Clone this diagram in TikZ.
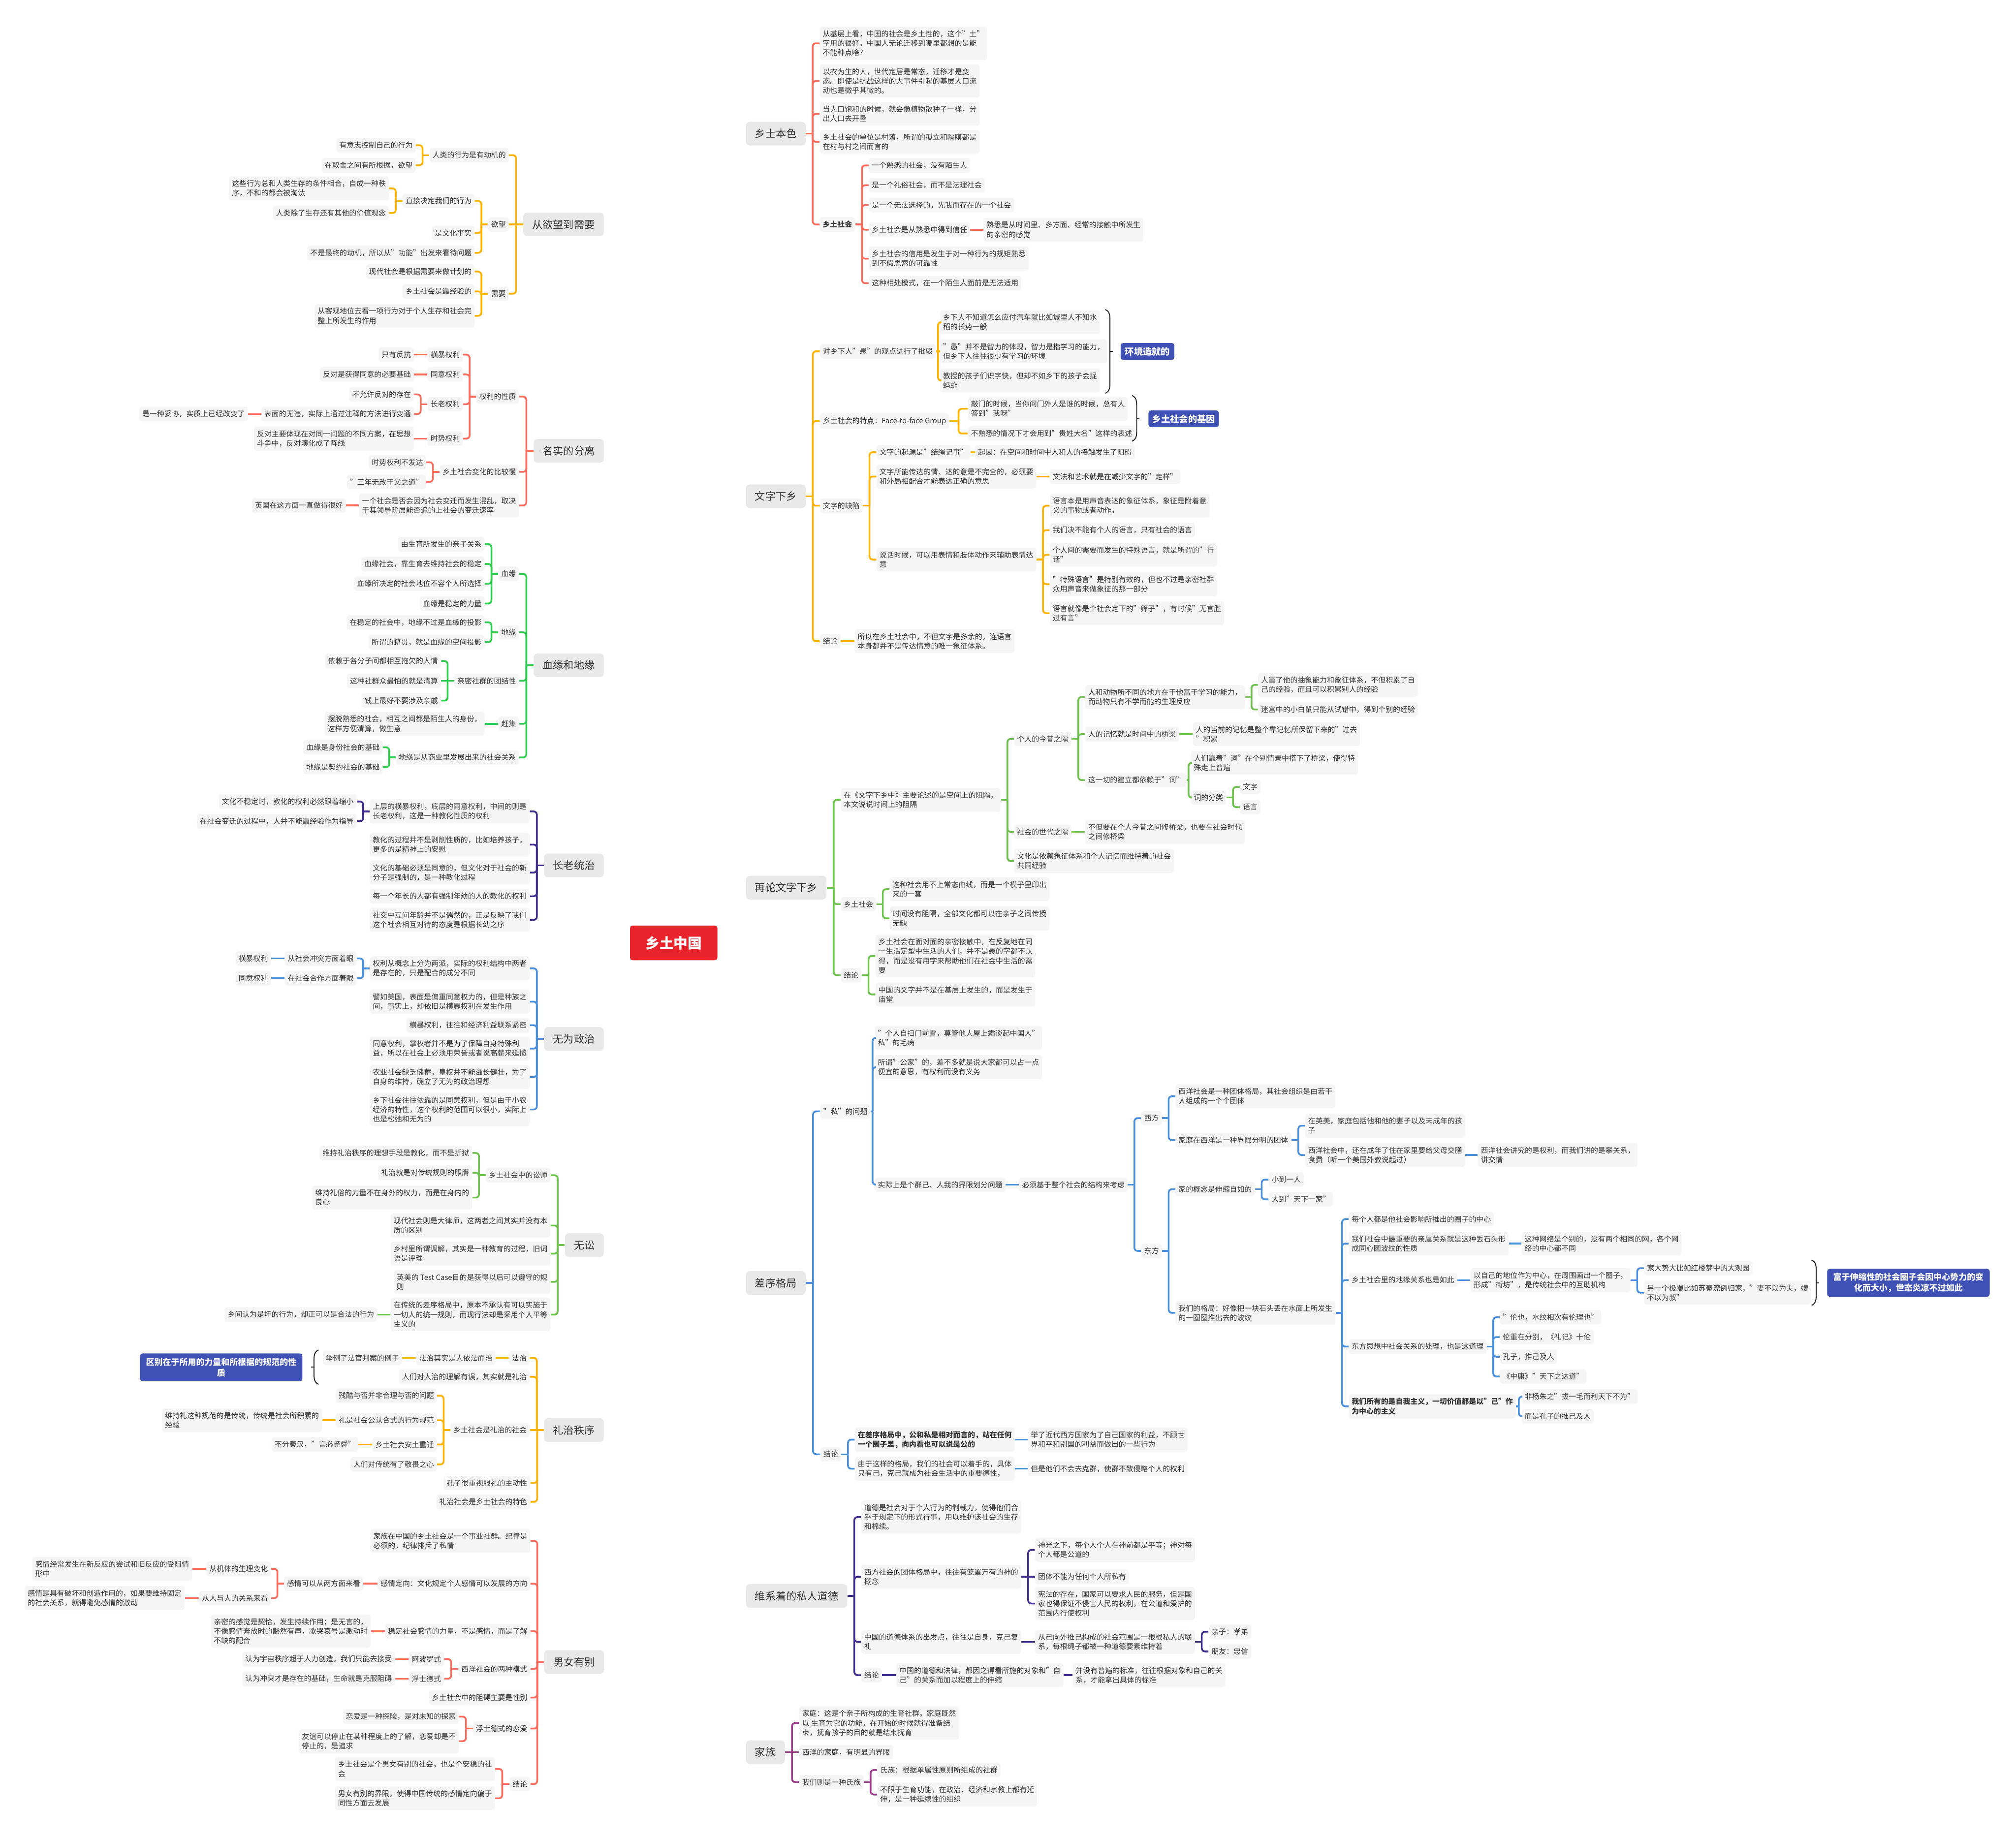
\documentclass[tikz,border=0pt]{standalone}
\usepackage{fontspec}
\setmainfont{Noto Sans CJK SC}
\usetikzlibrary{calc}
\definecolor{cA}{HTML}{FFB300}
\definecolor{cB}{HTML}{FF6B5B}
\definecolor{cC}{HTML}{2DCC4E}
\definecolor{cD}{HTML}{3F2D8E}
\definecolor{cE}{HTML}{4A8FDB}
\definecolor{cF}{HTML}{6CC24A}
\definecolor{cU}{HTML}{9E3D8F}
\definecolor{boxblue}{HTML}{3F51B5}
\definecolor{nodefill}{HTML}{F5F5F5}
\definecolor{mainfill}{HTML}{E8E8E8}
\definecolor{txt}{HTML}{333333}
\definecolor{centerred}{HTML}{E8232B}
\pgfdeclarelayer{bg}
\pgfsetlayers{bg,main}
\tikzset{
 sub/.style={fill=nodefill, text=txt, rounded corners=2pt, inner xsep=2.3pt, inner ysep=3pt, align=left, font=\fontsize{5.7}{7.3}\selectfont},
 lsub/.style={sub, anchor=east},
 rsub/.style={sub, anchor=west},
 maint/.style={fill=mainfill, text=txt, rounded corners=3pt, inner xsep=7pt, inner ysep=0pt, minimum height=18.4pt, font=\fontsize{8.1}{9}\selectfont},
 conn/.style={line width=1.35pt},
 mainline/.style={line width=2.2pt},
 bluebox/.style={fill=boxblue, text=white, rounded corners=2pt, align=center, inner sep=1pt, font=\fontsize{6.5}{8.4}\selectfont\bfseries},
 bracec/.style={line width=0.75pt, draw=black!85},
 ctrbox/.style={fill=centerred, text=white, rounded corners=2pt, minimum width=68pt, minimum height=27pt, font=\fontsize{11}{12}\selectfont\bfseries},
}
\newcommand\Lk[3]{%
  \path ($(#2.west)!.5!(#3.east)$) coordinate (tmpm);
  \draw[#1,conn] (#2.west) -- (tmpm |- #2.west);
  \draw[#1,conn,rounded corners=2.5pt] (tmpm |- #2.west) -- (tmpm |- #3.east) -- (#3.east);
}
\newcommand\Rk[3]{%
  \path ($(#2.east)!.5!(#3.west)$) coordinate (tmpm);
  \draw[#1,conn] (#2.east) -- (tmpm |- #2.east);
  \draw[#1,conn,rounded corners=2.5pt] (tmpm |- #2.east) -- (tmpm |- #3.west) -- (#3.west);
}
\newcommand\Ls[3]{\draw[#1,conn] (#2.west) -- (#3.east);}
\newcommand\Rs[3]{\draw[#1,conn] (#2.east) -- (#3.west);}
\newcommand\mainL[3]{\draw[#1,mainline] (ctrL) .. controls (512,#3) and ($(#2.east)+(21,0)$) .. (#2.east);}
\newcommand\mainR[3]{\draw[#1,mainline] (ctrR) .. controls (536,#3) and ($(#2.west)+(-22,0)$) .. (#2.west);}
\newcommand\bracer[4]{%
  \draw[bracec] (#1,#2) .. controls ({#1+3.6},{#2+1.5}) and ({#1+3.6},{#2+5}) .. ({#1+3.6},{#2+9}) -- ({#1+3.6},{#3-9}) .. controls ({#1+3.6},{#3-5}) and ({#1+3.6},{#3-1.5}) .. (#1,#3);
  \draw[bracec] ({#1+3.6},#4) -- ({#1+5.8},#4);
}
\newcommand\bracel[4]{%
  \draw[bracec] (#1,#2) .. controls ({#1-3.6},{#2+1.5}) and ({#1-3.6},{#2+5}) .. ({#1-3.6},{#2+9}) -- ({#1-3.6},{#3-9}) .. controls ({#1-3.6},{#3-5}) and ({#1-3.6},{#3-1.5}) .. (#1,#3);
  \draw[bracec] ({#1-3.6},#4) -- ({#1-5.8},#4);
}
\begin{document}
\begin{tikzpicture}[x=1pt,y=-1pt]
\useasboundingbox (0,0) rectangle (1568,1429);
\fill[white] (0,0) rectangle (1568,1429);

% ---------------- center ----------------
\node[ctrbox] (ctr) at (524,733.5) {乡土中国};
\coordinate (ctrL) at (512,733.5);
\coordinate (ctrR) at (536,733.5);

% ---------------- left main topics ----------------
\node[maint,anchor=east] (A) at (469.8,174.6) {从欲望到需要};
\node[maint,anchor=east] (B) at (469.8,350.7) {名实的分离};
\node[maint,anchor=east] (C) at (469.8,517.5) {血缘和地缘};
\node[maint,anchor=east] (D) at (469.8,673.2) {长老统治};
\node[maint,anchor=east] (E) at (469.8,808.2) {无为政治};
\node[maint,anchor=east] (F) at (469.8,968.6) {无讼};
\node[maint,anchor=east] (G) at (469.8,1112.5) {礼治秩序};
\node[maint,anchor=east] (H) at (469.9,1292.9) {男女有别};
% ---------------- right main topics ----------------
\node[maint,anchor=west] (P) at (580,104) {乡土本色};
\node[maint,anchor=west] (Q) at (580,386) {文字下乡};
\node[maint,anchor=west] (R) at (580,690.5) {再论文字下乡};
\node[maint,anchor=west] (S) at (580,998) {差序格局};
\node[maint,anchor=west] (T) at (580,1241.5) {维系着的私人道德};
\node[maint,anchor=west] (U) at (580,1363) {家族};

% ---------------- A 从欲望到需要 ----------------
\node[lsub] (A1) at (395.9,120.7) {人类的行为是有动机的};
\node[lsub] (A11) at (323.5,113.0) {有意志控制自己的行为};
\node[lsub] (A12) at (323.5,128.6) {在取舍之间有所根据，欲望};
\node[lsub] (A2) at (395.9,174.6) {欲望};
\node[lsub] (A21) at (369.3,156.3) {直接决定我们的行为};
\node[lsub] (A211) at (302.6,146.6) {这些行为总和人类生存的条件相合，自成一种秩\\序，不和的都会被淘汰};
\node[lsub] (A212) at (302.6,165.7) {人类除了生存还有其他的价值观念};
\node[lsub] (A22) at (369.3,181.3) {是文化事实};
\node[lsub] (A23) at (369.3,196.7) {不是最终的动机，所以从"功能"出发来看待问题};
\node[lsub] (A3) at (395.9,228.5) {需要};
\node[lsub] (A31) at (369.3,211.3) {现代社会是根据需要来做计划的};
\node[lsub] (A32) at (369.3,226.7) {乡土社会是靠经验的};
\node[lsub] (A33) at (369.3,245.7) {从客观地位去看一项行为对于个人生存和社会完\\整上所发生的作用};

% ---------------- B 名实的分离 ----------------
\node[lsub] (B1) at (403.8,308.5) {权利的性质};
\node[lsub] (B11) at (360.2,275.9) {横暴权利};
\node[lsub] (B111) at (322.1,275.9) {只有反抗};
\node[lsub] (B12) at (360.2,291.3) {同意权利};
\node[lsub] (B121) at (322.1,291.3) {反对是获得同意的必要基础};
\node[lsub] (B13) at (360.2,314.4) {长老权利};
\node[lsub] (B131) at (322.1,306.8) {不允许反对的存在};
\node[lsub] (B132) at (322.1,322.1) {表面的无违，实际上通过注释的方法进行变通};
\node[lsub] (B1321) at (193.0,322.1) {是一种妥协，实质上已经改变了};
\node[lsub] (B14) at (360.2,341.2) {时势权利};
\node[lsub] (B141) at (322.1,341.2) {反对主要体现在对同一问题的不同方案，在思想\\斗争中，反对演化成了阵线};
\node[lsub] (B2) at (403.8,367.1) {乡土社会变化的比较慢};
\node[lsub] (B21) at (331.6,359.6) {时势权利不发达};
\node[lsub] (B22) at (331.6,374.9) {"三年无改于父之道"};
\node[lsub] (B3) at (403.8,393.2) {一个社会是否会因为社会变迁而发生混乱，取决\\于其领导阶层能否追的上社会的变迁速率};
\node[lsub] (B31) at (269.2,393.2) {英国在这方面一直做得很好};

% ---------------- C 血缘和地缘 ----------------
\node[lsub] (C1) at (403.8,446.4) {血缘};
\node[lsub] (C11) at (377.1,423.3) {由生育所发生的亲子关系};
\node[lsub] (C12) at (377.1,438.7) {血缘社会，靠生育去维持社会的稳定};
\node[lsub] (C13) at (377.1,454.1) {血缘所决定的社会地位不容个人所选择};
\node[lsub] (C14) at (377.1,469.5) {血缘是稳定的力量};
\node[lsub] (C2) at (403.8,491.9) {地缘};
\node[lsub] (C21) at (377.1,484.1) {在稳定的社会中，地缘不过是血缘的投影};
\node[lsub] (C22) at (377.1,499.5) {所谓的籍贯，就是血缘的空间投影};
\node[lsub] (C3) at (403.8,529.6) {亲密社群的团结性};
\node[lsub] (C31) at (343.1,514.2) {依赖于各分子间都相互拖欠的人情};
\node[lsub] (C32) at (343.1,529.6) {这种社群众最怕的就是清算};
\node[lsub] (C33) at (343.1,545.0) {钱上最好不要涉及亲戚};
\node[lsub] (C4) at (403.8,563.1) {赶集};
\node[lsub] (C41) at (377.1,563.1) {摆脱熟悉的社会，相互之间都是陌生人的身份，\\这样方便清算，做生意};
\node[lsub] (C5) at (403.8,589.2) {地缘是从商业里发展出来的社会关系};
\node[lsub] (C51) at (297.8,581.3) {血缘是身份社会的基础};
\node[lsub] (C52) at (297.8,596.7) {地缘是契约社会的基础};

% ---------------- D 长老统治 ----------------
\node[lsub] (D1) at (412.1,631.2) {上层的横暴权利，底层的同意权利，中间的则是\\长老权利，这是一种教化性质的权利};
\node[lsub] (D11) at (277.6,623.5) {文化不稳定时，教化的权利必然跟着缩小};
\node[lsub] (D12) at (277.6,638.8) {在社会变迁的过程中，人并不能靠经验作为指导};
\node[lsub] (D2) at (412.1,657.0) {教化的过程并不是剥削性质的，比如培养孩子，\\更多的是精神上的安慰};
\node[lsub] (D3) at (412.1,678.8) {文化的基础必须是同意的，但文化对于社会的新\\分子是强制的，是一种教化过程};
\node[lsub] (D4) at (412.1,697.2) {每一个年长的人都有强制年幼的人的教化的权利};
\node[lsub] (D5) at (412.1,715.6) {社交中互问年龄并不是偶然的，正是反映了我们\\这个社会相互对待的态度是根据长幼之序};

% ---------------- E 无为政治 ----------------
\node[lsub] (E1) at (412.1,753.3) {权利从概念上分为两派，实际的权利结构中两者\\是存在的，只是配合的成分不同};
\node[lsub] (E11) at (277.6,745.6) {从社会冲突方面着眼};
\node[lsub] (E111) at (210.9,745.6) {横暴权利};
\node[lsub] (E12) at (277.6,761.0) {在社会合作方面着眼};
\node[lsub] (E121) at (210.9,761.0) {同意权利};
\node[lsub] (E2) at (412.1,779.2) {譬如美国，表面是偏重同意权力的，但是种族之\\间，事实上，却依旧是横暴权利在发生作用};
\node[lsub] (E3) at (412.1,797.5) {横暴权利，往往和经济利益联系紧密};
\node[lsub] (E4) at (412.1,815.7) {同意权利，掌权者并不是为了保障自身特殊利\\益，所以在社会上必须用荣誉或者说高薪来延揽};
\node[lsub] (E5) at (412.1,837.8) {农业社会缺乏储蓄，皇权并不能滋长健壮，为了\\自身的维持，确立了无为的政治理想};
\node[lsub] (E6) at (412.1,863.1) {乡下社会往往依靠的是同意权利，但是由于小农\\经济的特性，这个权利的范围可以很小，实际上\\也是松弛和无为的};

% ---------------- F 无讼 ----------------
\node[lsub] (F1) at (428.3,914.2) {乡土社会中的讼师};
\node[lsub] (F11) at (367.4,896.9) {维持礼治秩序的理想手段是教化，而不是折狱};
\node[lsub] (F12) at (367.4,912.3) {礼治就是对传统规则的服膺};
\node[lsub] (F13) at (367.4,931.6) {维持礼俗的力量不在身外的权力，而是在身内的\\良心};
\node[lsub] (F2) at (428.3,953.3) {现代社会则是大律师，这两者之间其实并没有本\\质的区别};
\node[lsub] (F3) at (428.3,975.2) {乡村里所谓调解，其实是一种教育的过程，旧词\\语是评理};
\node[lsub] (F4) at (428.3,997.2) {英美的 Test Case目的是获得以后可以遵守的规\\则};
\node[lsub] (F5) at (428.3,1022.6) {在传统的差序格局中，原本不承认有可以实施于\\一切人的统一规则，而现行法却是采用个人平等\\主义的};
\node[lsub] (F51) at (293.5,1022.6) {乡间认为是坏的行为，却正可以是合法的行为};

% ---------------- G 礼治秩序 ----------------
\node[lsub] (G1) at (412.1,1056.3) {法治};
\node[lsub] (G11) at (385.5,1056.3) {法治其实是人依法而治};
\node[lsub] (G111) at (312.8,1056.3) {举例了法官判案的例子};
\node[lsub] (G2) at (412.1,1071.0) {人们对人治的理解有误，其实就是礼治};
\node[lsub] (G3) at (412.1,1112.5) {乡土社会是礼治的社会};
\node[lsub] (G31) at (340.0,1085.7) {残酷与否并非合理与否的问题};
\node[lsub] (G32) at (340.0,1104.8) {礼是社会公认合式的行为规范};
\node[lsub] (G321) at (250.6,1104.8) {维持礼这种规范的是传统，传统是社会所积累的\\经验};
\node[lsub] (G33) at (340.0,1123.7) {乡土社会安土重迁};
\node[lsub] (G331) at (278.8,1123.7) {不分秦汉，"言必尧舜"};
\node[lsub] (G34) at (340.0,1139.2) {人们对传统有了敬畏之心};
\node[lsub] (G4) at (412.6,1153.6) {孔子很重视服礼的主动性};
\node[lsub] (G5) at (412.6,1168.3) {礼治社会是乡土社会的特色};
\bracel{247.8}{1050.1}{1076.9}{1063.5}
\node[bluebox, minimum width=126.3pt, minimum height=21.6pt] (GB) at (172.05,1063.7) {区别在于所用的力量和所根据的规范的性\\质};

% ---------------- H 男女有别 ----------------
\node[lsub] (H1) at (412.6,1198.6) {家族在中国的乡土社会是一个事业社群。纪律是\\必须的，纪律排斥了私情};
\node[lsub] (H2) at (412.6,1231.9) {感情定向：文化规定个人感情可以发展的方向};
\node[lsub] (H21) at (282.7,1231.9) {感情可以从两方面来看};
\node[lsub] (H211) at (210.9,1220.4) {从机体的生理变化};
\node[lsub] (H2111) at (149.6,1220.4) {感情经常发生在新反应的尝试和旧反应的受阻情\\形中};
\node[lsub] (H212) at (210.9,1243.2) {从人与人的关系来看};
\node[lsub] (H2121) at (143.8,1243.2) {感情是具有破坏和创造作用的，如果要维持固定\\的社会关系，就得避免感情的激动};
\node[lsub] (H3) at (412.6,1268.9) {稳定社会感情的力量，不是感情，而是了解};
\node[lsub] (H31) at (288.5,1268.9) {亲密的感觉是契恰，发生持续作用；是无言的，\\不像感情奔放时的豁然有声，歌哭哀号是激动时\\不缺的配合};
\node[lsub] (H4) at (412.6,1298.3) {西洋社会的两种模式};
\node[lsub] (H41) at (345.5,1290.6) {阿波罗式};
\node[lsub] (H411) at (307.3,1290.6) {认为宇宙秩序超于人力创造，我们只能去接受};
\node[lsub] (H42) at (345.5,1305.9) {浮士德式};
\node[lsub] (H421) at (307.3,1305.9) {认为冲突才是存在的基础，生命就是克服阻碍};
\node[lsub] (H5) at (412.6,1320.5) {乡土社会中的阻碍主要是性别};
\node[lsub] (H6) at (412.6,1344.7) {浮士德式的恋爱};
\node[lsub] (H61) at (357.0,1335.4) {恋爱是一种探险，是对未知的探索};
\node[lsub] (H62) at (357.0,1354.5) {友谊可以停止在某种程度上的了解，恋爱却是不\\停止的，是追求};
\node[lsub] (H7) at (412.6,1387.8) {结论};
\node[lsub] (H71) at (385.1,1376.1) {乡土社会是个男女有别的社会，也是个安稳的社\\会};
\node[lsub] (H72) at (385.1,1398.9) {男女有别的界限，使得中国传统的感情定向偏于\\同性方面去发展};

% ---------------- P 乡土本色 ----------------
\node[rsub] (P1) at (637.4,33.7) {从基层上看，中国的社会是乡土性的，这个"土"\\字用的很好。中国人无论迁移到哪里都想的是能\\不能种点啥？};
\node[rsub] (P2) at (637.4,63.0) {以农为生的人，世代定居是常态，迁移才是变\\态。即使是抗战这样的大事件引起的基层人口流\\动也是微乎其微的。};
\node[rsub] (P3) at (637.4,88.6) {当人口饱和的时候，就会像植物散种子一样，分\\出人口去开垦};
\node[rsub] (P4) at (637.4,110.3) {乡土社会的单位是村落，所谓的孤立和隔膜都是\\在村与村之间而言的};
\node[rsub,font=\fontsize{5.7}{7.3}\selectfont\bfseries] (P5) at (637.4,174.6) {乡土社会};
\node[rsub] (P51) at (675.6,128.7) {一个熟悉的社会，没有陌生人};
\node[rsub] (P52) at (675.6,144.1) {是一个礼俗社会，而不是法理社会};
\node[rsub] (P53) at (675.6,159.5) {是一个无法选择的，先我而存在的一个社会};
\node[rsub] (P54) at (675.6,178.7) {乡土社会是从熟悉中得到信任};
\node[rsub] (P541) at (764.8,178.7) {熟悉是从时间里、多方面、经常的接触中所发生\\的亲密的感觉};
\node[rsub] (P55) at (675.6,201.2) {乡土社会的信用是发生于对一种行为的规矩熟悉\\到不假思索的可靠性};
\node[rsub] (P56) at (675.6,220.3) {这种相处模式，在一个陌生人面前是无法适用};

% ---------------- Q 文字下乡 ----------------
\node[rsub] (Q1) at (637.6,273.3) {对乡下人"愚"的观点进行了批驳};
\node[rsub] (Q11) at (731.0,250.6) {乡下人不知道怎么应付汽车就比如城里人不知水\\稻的长势一般};
\node[rsub] (Q12) at (731.0,273.3) {"愚"并不是智力的体现，智力是指学习的能力，\\但乡下人往往很少有学习的环境};
\node[rsub] (Q13) at (731.0,296.0) {教授的孩子们识字快，但却不如乡下的孩子会捉\\蚂蚱};
\bracer{859.7}{240.8}{305.9}{273.3}
\node[bluebox, font=\fontsize{7}{8.4}\selectfont\bfseries, minimum width=41.7pt, minimum height=13.2pt] (QB1) at (892.5,273.4) {环境造就的};
\node[rsub] (Q2) at (637.6,327.5) {乡土社会的特点：Face-to-face Group};
\node[rsub] (Q21) at (752.7,318.0) {敲门的时候，当你问门外人是谁的时候，总有人\\答到"我呀"};
\node[rsub] (Q22) at (752.7,337.2) {不熟悉的情况下才会用到"贵姓大名"这样的表述};
\bracer{880.5}{307.7}{343.2}{325.6}
\node[bluebox, font=\fontsize{7}{8.4}\selectfont\bfseries, minimum width=54.8pt, minimum height=13pt] (QB2) at (920.6,325.8) {乡土社会的基因};
\node[rsub] (Q3) at (637.6,393.4) {文字的缺陷};
\node[rsub] (Q31) at (681.5,351.7) {文字的起源是"结绳记事"};
\node[rsub] (Q311) at (758.2,351.7) {起因：在空间和时间中人和人的接触发生了阻碍};
\node[rsub] (Q32) at (681.5,370.7) {文字所能传达的情、达的意是不完全的，必须要\\和外局相配合才能表达正确的意思};
\node[rsub] (Q321) at (816.3,370.7) {文法和艺术就是在减少文字的"走样"};
\node[rsub] (Q33) at (681.5,435.3) {说话时候，可以用表情和肢体动作来辅助表情达\\意};
\node[rsub] (Q331) at (816.3,393.4) {语言本是用声音表达的象征体系，象征是附着意\\义的事物或者动作。};
\node[rsub] (Q332) at (816.3,412.4) {我们决不能有个人的语言，只有社会的语言};
\node[rsub] (Q333) at (816.3,431.6) {个人间的需要而发生的特殊语言，就是所谓的"行\\话"};
\node[rsub] (Q334) at (816.3,454.4) {"特殊语言"是特别有效的，但也不过是亲密社群\\众用声音来做象征的那一部分};
\node[rsub] (Q335) at (816.3,477.0) {语言就像是个社会定下的"筛子"，有时候"无言胜\\过有言"};
\node[rsub] (Q4) at (637.6,498.8) {结论};
\node[rsub] (Q41) at (664.6,498.8) {所以在乡土社会中，不但文字是多余的，连语言\\本身都并不是传达情意的唯一象征体系。};

% ---------------- R 再论文字下乡 ----------------
\node[rsub] (R1) at (653.8,622.2) {在《文字下乡中》主要论述的是空间上的阻隔，\\本文说说时间上的阻隔};
\node[rsub] (R11) at (788.6,574.8) {个人的今昔之隔};
\node[rsub] (R111) at (843.8,542.2) {人和动物所不同的地方在于他富于学习的能力，\\而动物只有不学而能的生理反应};
\node[rsub] (R1111) at (978.3,532.8) {人靠了他的抽象能力和象征体系，不但积累了自\\己的经验，而且可以积累别人的经验};
\node[rsub] (R1112) at (978.3,551.9) {迷宫中的小白鼠只能从试错中，得到个别的经验};
\node[rsub] (R112) at (843.8,571.1) {人的记忆就是时间中的桥梁};
\node[rsub] (R1121) at (927.6,571.1) {人的当前的记忆是整个靠记忆所保留下来的"过去\\"积累};
\node[rsub] (R113) at (843.8,606.8) {这一切的建立都依赖于"词"};
\node[rsub] (R1131) at (926.0,593.4) {人们靠着"词"在个别情景中搭下了桥梁，使得特\\殊走上普遍};
\node[rsub] (R1132) at (926.0,620.4) {词的分类};
\node[rsub] (R11321) at (964.2,612.2) {文字};
\node[rsub] (R11322) at (964.2,627.9) {语言};
\node[rsub] (R12) at (788.6,647.1) {社会的世代之隔};
\node[rsub] (R121) at (843.8,647.1) {不但要在个人今昔之间修桥梁，也要在社会时代\\之间修桥梁};
\node[rsub] (R13) at (788.6,669.8) {文化是依赖象征体系和个人记忆而维持着的社会\\共同经验};
\node[rsub] (R2) at (653.8,703.4) {乡土社会};
\node[rsub] (R21) at (691.7,691.7) {这种社会用不上常态曲线，而是一个模子里印出\\来的一套};
\node[rsub] (R22) at (691.7,714.4) {时间没有阻隔，全部文化都可以在亲子之间传授\\无缺};
\node[rsub] (R3) at (653.8,758.7) {结论};
\node[rsub] (R31) at (680.8,743.7) {乡土社会在面对面的亲密接触中，在反复地在同\\一生活定型中生活的人们，并不是愚的字都不认\\得，而是没有用字来帮助他们在社会中生活的需\\要};
\node[rsub] (R32) at (680.8,773.6) {中国的文字并不是在基层上发生的，而是发生于\\庙堂};

% ---------------- S 差序格局 ----------------
\node[rsub] (S1) at (637.9,864.5) {"私"的问题};
\node[rsub] (S11) at (680.3,807.4) {"个人自扫门前雪，莫管他人屋上霜谈起中国人"\\私"的毛病};
\node[rsub] (S12) at (680.3,830.2) {所谓"公家"的，差不多就是说大家都可以占一点\\便宜的意思，有权利而没有义务};
\node[rsub] (S13) at (680.3,921.6) {实际上是个群己、人我的界限划分问题};
\node[rsub] (S131) at (792.4,921.6) {必须基于整个社会的结构来考虑};
\node[rsub] (S1311) at (887.4,869.8) {西方};
\node[rsub] (S13111) at (914.1,852.8) {西洋社会是一种团体格局，其社会组织是由若干\\人组成的一个个团体};
\node[rsub] (S13112) at (914.1,886.9) {家庭在西洋是一种界限分明的团体};
\node[rsub] (S131121) at (1015,875.7) {在英美，家庭包括他和他的妻子以及未成年的孩\\子};
\node[rsub] (S131122) at (1015,898.5) {西洋社会中，还在成年了住在家里要给父母交膳\\食费（听一个美国外教说起过）};
\node[rsub] (S1311221) at (1149.3,898.5) {西洋社会讲究的是权利，而我们讲的是攀关系，\\讲交情};
\node[rsub] (S1312) at (887.4,973.1) {东方};
\node[rsub] (S13121) at (914.1,925.1) {家的概念是伸缩自如的};
\node[rsub] (Sx1) at (986.5,917.6) {小到一人};
\node[rsub] (Sx2) at (986.5,933.0) {大到"天下一家"};
\node[rsub] (S13122) at (914.1,1021.3) {我们的格局：好像把一块石头丢在水面上所发生\\的一圈圈推出去的波纹};
\node[rsub] (S131221) at (1048.8,948.4) {每个人都是他社会影响所推出的圈子的中心};
\node[rsub] (S131222) at (1048.8,967.4) {我们社会中最重要的亲属关系就是这种丢石头形\\成同心圆波纹的性质};
\node[rsub] (S1312221) at (1183.4,967.4) {这种网络是个别的，没有两个相同的网，各个网\\络的中心都不同};
\node[rsub] (S131223) at (1048.8,995.8) {乡土社会里的地缘关系也是如此};
\node[rsub] (S1312231) at (1143.6,995.8) {以自己的地位作为中心，在周围画出一个圈子，\\形成"街坊"，是传统社会中的互助机构};
\node[rsub] (Sy1) at (1278.5,986.5) {家大势大比如红楼梦中的大观园};
\node[rsub] (Sy2) at (1278.5,1005.6) {另一个极端比如苏秦潦倒归家，"妻不以为夫，嫂\\不以为叔"};
\bracer{1409}{980.2}{1015.4}{997.8}
\node[bluebox, minimum width=126.4pt, minimum height=21.8pt] (SB) at (1484.3,997.9) {富于伸缩性的社会圈子会因中心势力的变\\化而大小，世态炎凉不过如此};
\node[rsub] (S131224) at (1048.8,1047.5) {东方思想中社会关系的处理，也是这道理};
\node[rsub] (Sl1) at (1166.4,1024.7) {"伦也，水纹相次有伦理也"};
\node[rsub] (Sl2) at (1166.4,1040.1) {伦重在分别，《礼记》十伦};
\node[rsub] (Sl3) at (1166.4,1055.4) {孔子，推己及人};
\node[rsub] (Sl4) at (1166.4,1070.8) {《中庸》"天下之达道"};
\node[rsub,font=\fontsize{5.7}{7.3}\selectfont\bfseries] (S131225) at (1048.8,1094.0) {我们所有的是自我主义，一切价值都是以"己"作\\为中心的主义};
\node[rsub] (Sz1) at (1183.4,1086.4) {非杨朱之"拔一毛而利天下不为"};
\node[rsub] (Sz2) at (1183.4,1101.8) {而是孔子的推己及人};
\node[rsub] (S2) at (637.9,1131.3) {结论};
\node[rsub,font=\fontsize{5.7}{7.3}\selectfont\bfseries] (S21) at (664.7,1119.9) {在差序格局中，公和私是相对而言的，站在任何\\一个圈子里，向内看也可以说是公的};
\node[rsub] (S211) at (799.2,1119.9) {举了近代西方国家为了自己国家的利益，不顾世\\界和平和别国的利益而做出的一些行为};
\node[rsub] (S22) at (664.7,1142.5) {由于这样的格局，我们的社会可以着手的，具体\\只有己，克己就成为社会生活中的重要德性，};
\node[rsub] (S221) at (799.2,1142.5) {但是他们不会去克群，使群不致侵略个人的权利};

% ---------------- T 维系着的私人道德 ----------------
\node[rsub] (T1) at (669.7,1180.1) {道德是社会对于个人行为的制裁力，使得他们合\\乎于规定下的形式行事，用以维护该社会的生存\\和棉续。};
\node[rsub] (T2) at (669.7,1226.6) {西方社会的团体格局中，往往有笼罩万有的神的\\概念};
\node[rsub] (T21) at (804.9,1205.7) {神光之下，每个人个人在神前都是平等；神对每\\个人都是公道的};
\node[rsub] (T22) at (804.9,1226.6) {团体不能为任何个人所私有};
\node[rsub] (T23) at (804.9,1247.4) {宪法的存在，国家可以要求人民的服务，但是国\\家也得保证不侵害人民的权利，在公道和爱护的\\范围内行使权利};
\node[rsub] (T3) at (669.7,1277.2) {中国的道德体系的出发点，往往是自身，克己复\\礼};
\node[rsub] (T31) at (804.9,1277.2) {从己向外推己构成的社会范围是一根根私人的联\\系，每根绳子都被一种道德要素维持着};
\node[rsub] (T311) at (939.8,1269.3) {亲子：孝弟};
\node[rsub] (T312) at (939.8,1284.7) {朋友：忠信};
\node[rsub] (T4) at (669.7,1303.1) {结论};
\node[rsub] (T41) at (697.0,1303.1) {中国的道德和法律，都因之得看所施的对象和"自\\己"的关系而加以程度上的伸缩};
\node[rsub] (T411) at (834.2,1303.1) {并没有普遍的标准，往往根据对象和自己的关\\系，才能拿出具体的标准};

% ---------------- U 家族 ----------------
\node[rsub] (U1) at (621.4,1340.4) {家庭：这是个亲子所构成的生育社群。家庭既然\\以 生育为它的功能，在开始的时候就得准备结\\束，抚育孩子的目的就是结束抚育};
\node[rsub] (U2) at (621.4,1363) {西洋的家庭，有明显的界限};
\node[rsub] (U3) at (621.4,1386.3) {我们则是一种氏族};
\node[rsub] (U31) at (682.2,1376.9) {氏族：根据单属性原则所组成的社群};
\node[rsub] (U32) at (682.2,1396.0) {不限于生育功能，在政治、经济和宗教上都有延\\伸，是一种延续性的组织};

% ================= connectors =================
% A
\Ls{cA}{A}{A2} \Lk{cA}{A}{A1} \Lk{cA}{A}{A3}
\Lk{cA}{A1}{A11} \Lk{cA}{A1}{A12}
\Lk{cA}{A2}{A21} \Lk{cA}{A2}{A22} \Lk{cA}{A2}{A23}
\Lk{cA}{A21}{A211} \Lk{cA}{A21}{A212}
\Lk{cA}{A3}{A31} \Lk{cA}{A3}{A32} \Lk{cA}{A3}{A33}
% B
\Lk{cB}{B}{B1} \Lk{cB}{B}{B2} \Lk{cB}{B}{B3}
\Lk{cB}{B1}{B11} \Lk{cB}{B1}{B12} \Lk{cB}{B1}{B13} \Lk{cB}{B1}{B14}
\Ls{cB}{B11}{B111} \Ls{cB}{B12}{B121}
\Lk{cB}{B13}{B131} \Lk{cB}{B13}{B132} \Ls{cB}{B132}{B1321}
\Ls{cB}{B14}{B141}
\Lk{cB}{B2}{B21} \Lk{cB}{B2}{B22}
\Ls{cB}{B3}{B31}
% C
\Lk{cC}{C}{C1} \Lk{cC}{C}{C2} \Lk{cC}{C}{C3} \Lk{cC}{C}{C4} \Lk{cC}{C}{C5}
\Lk{cC}{C1}{C11} \Lk{cC}{C1}{C12} \Lk{cC}{C1}{C13} \Lk{cC}{C1}{C14}
\Lk{cC}{C2}{C21} \Lk{cC}{C2}{C22}
\Lk{cC}{C3}{C31} \Ls{cC}{C3}{C32} \Lk{cC}{C3}{C33}
\Ls{cC}{C4}{C41}
\Lk{cC}{C5}{C51} \Lk{cC}{C5}{C52}
% D
\Lk{cD}{D}{D1} \Lk{cD}{D}{D2} \Lk{cD}{D}{D3} \Lk{cD}{D}{D4} \Lk{cD}{D}{D5}
\Lk{cD}{D1}{D11} \Lk{cD}{D1}{D12}
% E
\Lk{cE}{E}{E1} \Lk{cE}{E}{E2} \Lk{cE}{E}{E3} \Lk{cE}{E}{E4} \Lk{cE}{E}{E5} \Lk{cE}{E}{E6}
\Lk{cE}{E1}{E11} \Lk{cE}{E1}{E12}
\Ls{cE}{E11}{E111} \Ls{cE}{E12}{E121}
% F
\Lk{cF}{F}{F1} \Lk{cF}{F}{F2} \Lk{cF}{F}{F3} \Lk{cF}{F}{F4} \Lk{cF}{F}{F5}
\Lk{cF}{F1}{F11} \Lk{cF}{F1}{F12} \Lk{cF}{F1}{F13}
\Ls{cF}{F5}{F51}
% G
\Lk{cA}{G}{G1} \Lk{cA}{G}{G2} \Ls{cA}{G}{G3} \Lk{cA}{G}{G4} \Lk{cA}{G}{G5}
\Ls{cA}{G1}{G11} \Ls{cA}{G11}{G111}
\Lk{cA}{G3}{G31} \Lk{cA}{G3}{G32} \Lk{cA}{G3}{G33} \Lk{cA}{G3}{G34}
\Ls{cA}{G32}{G321} \Ls{cA}{G33}{G331}
% H
\Lk{cB}{H}{H1} \Lk{cB}{H}{H2} \Lk{cB}{H}{H3} \Lk{cB}{H}{H4} \Lk{cB}{H}{H5} \Lk{cB}{H}{H6} \Lk{cB}{H}{H7}
\Ls{cB}{H2}{H21}
\Lk{cB}{H21}{H211} \Lk{cB}{H21}{H212}
\Ls{cB}{H211}{H2111} \Ls{cB}{H212}{H2121}
\Ls{cB}{H3}{H31}
\Lk{cB}{H4}{H41} \Lk{cB}{H4}{H42}
\Ls{cB}{H41}{H411} \Ls{cB}{H42}{H421}
\Lk{cB}{H6}{H61} \Lk{cB}{H6}{H62}
\Lk{cB}{H7}{H71} \Lk{cB}{H7}{H72}
% P
\Rk{cB}{P}{P1} \Rk{cB}{P}{P2} \Rk{cB}{P}{P3} \Rk{cB}{P}{P4} \Rk{cB}{P}{P5}
\Rk{cB}{P5}{P51} \Rk{cB}{P5}{P52} \Rk{cB}{P5}{P53} \Rk{cB}{P5}{P54} \Rk{cB}{P5}{P55} \Rk{cB}{P5}{P56}
\Rs{cB}{P54}{P541}
% Q
\Rk{cA}{Q}{Q1} \Rk{cA}{Q}{Q2} \Rk{cA}{Q}{Q3} \Rk{cA}{Q}{Q4}
\Rk{cA}{Q1}{Q11} \Rs{cA}{Q1}{Q12} \Rk{cA}{Q1}{Q13}
\Rk{cA}{Q2}{Q21} \Rk{cA}{Q2}{Q22}
\Rk{cA}{Q3}{Q31} \Rk{cA}{Q3}{Q32} \Rk{cA}{Q3}{Q33}
\Rs{cA}{Q31}{Q311} \Rs{cA}{Q32}{Q321}
\Rk{cA}{Q33}{Q331} \Rk{cA}{Q33}{Q332} \Rk{cA}{Q33}{Q333} \Rk{cA}{Q33}{Q334} \Rk{cA}{Q33}{Q335}
\Rs{cA}{Q4}{Q41}
% R
\Rk{cF}{R}{R1} \Rk{cF}{R}{R2} \Rk{cF}{R}{R3}
\Rk{cF}{R1}{R11} \Rk{cF}{R1}{R12} \Rk{cF}{R1}{R13}
\Rk{cF}{R11}{R111} \Rk{cF}{R11}{R112} \Rk{cF}{R11}{R113}
\Rk{cF}{R111}{R1111} \Rk{cF}{R111}{R1112}
\Rs{cF}{R112}{R1121}
\Rk{cF}{R113}{R1131} \Rk{cF}{R113}{R1132}
\Rk{cF}{R1132}{R11321} \Rk{cF}{R1132}{R11322}
\Rs{cF}{R12}{R121}
\Rk{cF}{R2}{R21} \Rk{cF}{R2}{R22}
\Rk{cF}{R3}{R31} \Rk{cF}{R3}{R32}
% S
\Rk{cE}{S}{S1} \Rk{cE}{S}{S2}
\Rk{cE}{S1}{S11} \Rk{cE}{S1}{S12} \Rk{cE}{S1}{S13}
\Rs{cE}{S13}{S131}
\Rk{cE}{S131}{S1311} \Rk{cE}{S131}{S1312}
\Rk{cE}{S1311}{S13111} \Rk{cE}{S1311}{S13112}
\Rk{cE}{S13112}{S131121} \Rk{cE}{S13112}{S131122}
\Rs{cE}{S131122}{S1311221}
\Rk{cE}{S1312}{S13121} \Rk{cE}{S1312}{S13122}
\Rk{cE}{S13121}{Sx1} \Rk{cE}{S13121}{Sx2}
\Rk{cE}{S13122}{S131221} \Rk{cE}{S13122}{S131222} \Rk{cE}{S13122}{S131223} \Rk{cE}{S13122}{S131224} \Rk{cE}{S13122}{S131225}
\Rs{cE}{S131222}{S1312221}
\Rs{cE}{S131223}{S1312231}
\Rk{cE}{S1312231}{Sy1} \Rk{cE}{S1312231}{Sy2}
\Rk{cE}{S131224}{Sl1} \Rk{cE}{S131224}{Sl2} \Rk{cE}{S131224}{Sl3} \Rk{cE}{S131224}{Sl4}
\Rk{cE}{S131225}{Sz1} \Rk{cE}{S131225}{Sz2}
\Rk{cE}{S2}{S21} \Rk{cE}{S2}{S22}
\Rs{cE}{S21}{S211} \Rs{cE}{S22}{S221}
% T
\Rk{cD}{T}{T1} \Rk{cD}{T}{T2} \Rk{cD}{T}{T3} \Rk{cD}{T}{T4}
\Rk{cD}{T2}{T21} \Rs{cD}{T2}{T22} \Rk{cD}{T2}{T23}
\Rs{cD}{T3}{T31}
\Rk{cD}{T31}{T311} \Rk{cD}{T31}{T312}
\Rs{cD}{T4}{T41} \Rs{cD}{T41}{T411}
% U
\Rk{cU}{U}{U1} \Rs{cU}{U}{U2} \Rk{cU}{U}{U3}
\Rk{cU}{U3}{U31} \Rk{cU}{U3}{U32}

% main curves (behind)
\begin{pgfonlayer}{bg}
\mainL{cA}{A}{454.1}
\mainL{cB}{B}{542.1}
\mainL{cC}{C}{625.5}
\mainL{cD}{D}{703.4}
\mainL{cE}{E}{770.9}
\mainL{cF}{F}{851.1}
\mainL{cA}{G}{923.0}
\mainL{cB}{H}{1013.2}
\mainR{cB}{P}{418.8}
\mainR{cA}{Q}{559.8}
\mainR{cF}{R}{712.0}
\mainR{cE}{S}{865.8}
\mainR{cD}{T}{987.5}
\mainR{cU}{U}{1048.3}
\end{pgfonlayer}
\end{tikzpicture}
\end{document}
